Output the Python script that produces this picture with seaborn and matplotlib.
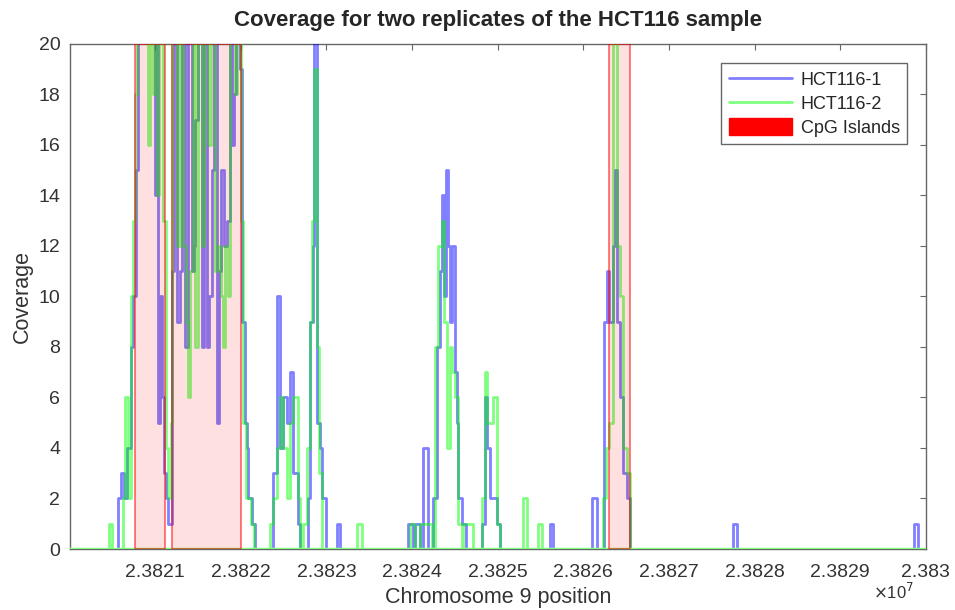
import pandas as pd
import matplotlib
matplotlib.use("Agg")
import matplotlib.pyplot as plt
import seaborn as sns
from matplotlib.lines import Line2D
from matplotlib.patches import Patch
from matplotlib.ticker import FuncFormatter, MultipleLocator

# Coverage step data (position on chr9, coverage); values above 20 are clipped by the axis
pos_1 = [23820005, 23820560, 23820600, 23820640, 23820665, 23820712, 23820740, 23820770, 23820800,
         23821000, 23821015, 23821035, 23821060, 23821085, 23821105, 23821125, 23821150,
         23821200, 23821225, 23821250, 23821285, 23821315, 23821343, 23821378, 23821425, 23821455,
         23821470, 23821495, 23821542, 23821570, 23821600, 23821630, 23821659, 23821690, 23821717,
         23821740, 23821770, 23821800, 23821834, 23821870, 23821892, 23821915, 23821940, 23821985,
         23822010, 23822050, 23822070, 23822085, 23822130, 23822160,
         23822371, 23822418, 23822453, 23822488, 23822535, 23822570, 23822605, 23822663, 23822686,
         23822780, 23822810, 23822840, 23822860, 23822895, 23822925, 23822950, 23822990,
         23823120, 23823155,
         23823948, 23824006, 23824030, 23824088, 23824123, 23824181, 23824240, 23824287, 23824322,
         23824345, 23824368, 23824392, 23824415, 23824438, 23824462, 23824497, 23824520, 23824532,
         23824578, 23824625,
         23824812, 23824847, 23824871, 23824906, 23824941, 23824987, 23825022,
         23825606, 23825641,
         23826097, 23826155, 23826237, 23826272, 23826295, 23826342, 23826365, 23826388, 23826424,
         23826459, 23826506, 23826541,
         23827744, 23827790, 23829858, 23829904, 23830002]
cov_1 = [0, 2, 3, 2, 4, 8, 10, 15, 24,
         14, 24, 5, 10, 6, 3, 2, 1,
         11, 24, 9, 11, 24, 8, 24, 11, 12,
         17, 24, 8, 24, 8, 10, 15, 24, 5,
         11, 15, 12, 13, 24, 16, 18, 24, 19,
         9, 5, 4, 2, 1, 0,
         3, 10, 4, 6, 5, 7, 3, 1, 0,
         2, 9, 12, 24, 5, 4, 2, 0,
         1, 0,
         1, 0, 1, 0, 4, 0, 2, 8, 11,
         14, 10, 15, 12, 9, 12, 7, 5, 2,
         1, 0,
         1, 6, 4, 2, 2, 1, 0,
         1, 0,
         2, 0, 9, 11, 9, 12, 15, 9, 6,
         3, 2, 0,
         1, 0, 1, 0, 0]

pos_2 = [23820005, 23820455, 23820490, 23820619, 23820648, 23820677, 23820712, 23820736, 23820759,
         23820782, 23820911, 23820934, 23820969, 23820993, 23821016, 23821040, 23821086, 23821121,
         23821145, 23821180,
         23821200, 23821260, 23821285, 23821330, 23821360, 23821385, 23821410, 23821440, 23821470,
         23821500, 23821545, 23821575, 23821620, 23821650, 23821700, 23821735, 23821765, 23821795,
         23821820, 23821850, 23821875, 23821930, 23821960, 23822000, 23822030, 23822060, 23822120,
         23822150,
         23822336, 23822371, 23822418, 23822453, 23822488, 23822535, 23822570, 23822605, 23822663,
         23822686, 23822721, 23822768, 23822803, 23822826, 23822850, 23822885, 23822908, 23822944,
         23823352, 23823411,
         23823971, 23824030, 23824088, 23824228, 23824263, 23824298, 23824345, 23824368, 23824403,
         23824438, 23824462, 23824497, 23824532, 23824578, 23824590, 23824672, 23824707,
         23824812, 23824847, 23824871, 23824906, 23824941, 23824987, 23825022,
         23825290, 23825338, 23825466, 23825513,
         23826225, 23826260, 23826295, 23826342, 23826388, 23826424, 23826459, 23826506, 23826541,
         23830002]
cov_2 = [0, 1, 0, 2, 6, 2, 10, 13, 18,
         24, 16, 24, 18, 24, 14, 24, 13, 4,
         2, 5,
         24, 12, 24, 12, 9, 6, 11, 24, 8,
         24, 12, 24, 16, 24, 11, 12, 10, 8,
         12, 10, 24, 18, 24, 13, 5, 2, 1,
         0,
         1, 2, 4, 6, 4, 2, 5, 6, 2,
         0, 1, 4, 9, 13, 19, 8, 3, 0,
         1, 0,
         1, 0, 1, 0, 8, 12, 13, 9, 4,
         8, 7, 6, 1, 0, 1, 1, 0,
         2, 7, 5, 5, 6, 1, 0,
         2, 0, 1, 0,
         2, 4, 5, 24, 12, 10, 4, 3, 0,
         0]

# CpG island intervals
cpg_start = [23820759, 23821200, 23826299]
cpg_end = [23821110, 23822005, 23826541]

df = pd.concat([
    pd.DataFrame({"position": pos_1, "coverage": cov_1, "sample": "HCT116-1"}),
    pd.DataFrame({"position": pos_2, "coverage": cov_2, "sample": "HCT116-2"}),
])

sns.set_style("white")
plt.rcParams["font.family"] = ["Liberation Sans", "DejaVu Sans"]

fig = plt.figure(figsize=(9.55, 6.1), dpi=100)
ax = fig.add_axes([0.0733, 0.1, 0.8963, 0.8279])

palette = {"HCT116-1": (0, 0, 1), "HCT116-2": (0, 1, 0)}
sns.lineplot(data=df, x="position", y="coverage", hue="sample", palette=palette,
             estimator=None, sort=False, drawstyle="steps-post", linewidth=2.0,
             alpha=0.5, legend=False, ax=ax, zorder=3)

# zero level shows as the pale green of the second replicate
ax.axhline(0, color=(0.5, 1, 0.5), linewidth=2.5, zorder=3.5)

for s, e in zip(cpg_start, cpg_end):
    ax.axvspan(s, e, facecolor=(1, 0, 0, 0.12), edgecolor=(1, 0, 0, 0.55), linewidth=1.3, zorder=4)

ax.set_xlim(23820005, 23830002)
ax.set_ylim(0, 20)
ax.xaxis.set_major_locator(MultipleLocator(1000))
ax.xaxis.set_major_formatter(FuncFormatter(lambda v, p: f"{v / 1e7:.5g}"))
ax.yaxis.set_major_locator(MultipleLocator(2))

for sp in ax.spines.values():
    sp.set_color("#666666")
    sp.set_linewidth(1.0)
ax.tick_params(axis="y", direction="in", length=4, width=0.8, color="#666666", right=True,
               labelsize=14, labelcolor="#333333", pad=7)
ax.tick_params(axis="x", direction="in", length=4, width=0.8, color="#666666", top=True,
               labelsize=14, labelcolor="#333333", pad=11)

ax.set_title("Coverage for two replicates of the HCT116 sample", fontsize=16, fontweight="bold", pad=13)
ax.set_xlabel("Chromosome 9 position", fontsize=15.5, color="#333333", labelpad=4)
ax.set_ylabel("Coverage", fontsize=15.5, color="#333333", labelpad=4)
ax.text(0.962, -0.085, r"$\times$10$^{7}$", transform=ax.transAxes, fontsize=12,
        color="#333333", ha="center", va="center")

handles = [Line2D([], [], color=(0, 0, 1), alpha=0.5, lw=2),
           Line2D([], [], color=(0, 1, 0), alpha=0.5, lw=2),
           Patch(facecolor="red", edgecolor="red")]
leg = ax.legend(handles, ["HCT116-1", "HCT116-2", "CpG Islands"], loc="upper right",
                bbox_to_anchor=(0.978, 0.962), fontsize=13, fancybox=False, framealpha=1,
                edgecolor="#666666", handlelength=3.5, handleheight=1.1, borderpad=0.4,
                labelspacing=0.28, handletextpad=0.5, borderaxespad=0)
leg.get_frame().set_linewidth(1.0)

fig.savefig("out.png", dpi=100)
